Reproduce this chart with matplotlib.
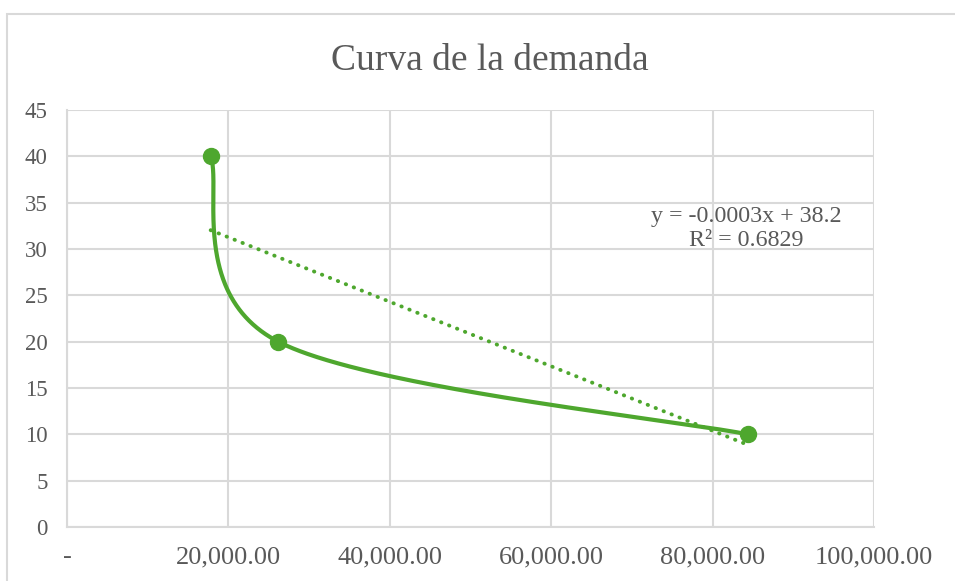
import numpy as np
import matplotlib.pyplot as plt
from matplotlib.patches import Rectangle

# demand points: quantity vs price
cantidad = [17800, 26170, 84400]
precio = [40, 20, 10]

x_ticks = [0, 20000, 40000, 60000, 80000, 100000]
x_labels = ['-', '20,000.00', '40,000.00', '60,000.00', '80,000.00', '100,000.00']
y_ticks = list(range(0, 50, 5))

verde = '#4EA72E'
gris = '#595959'
serif = ['Liberation Serif', 'DejaVu Serif']


def smooth_curve(xs, ys, n=200):
    # Catmull-Rom style bezier segments like a spreadsheet "smoothed line"
    pts = np.column_stack([xs, ys]).astype(float)
    out = []
    for i in range(len(pts) - 1):
        p0 = pts[max(i - 1, 0)]
        p1 = pts[i]
        p2 = pts[i + 1]
        p3 = pts[min(i + 2, len(pts) - 1)]
        c1 = p1 + (p2 - p0) / 6
        c2 = p2 - (p3 - p1) / 6
        t = np.linspace(0, 1, n)[:, None]
        seg = ((1 - t) ** 3) * p1 + 3 * ((1 - t) ** 2) * t * c1 \
            + 3 * (1 - t) * t ** 2 * c2 + t ** 3 * p2
        out.append(seg)
    seg = np.vstack(out)
    return seg[:, 0], seg[:, 1]


fig = plt.figure(figsize=(9.55, 5.81), dpi=100)
ax = fig.add_axes([0.0702, 0.0929, 0.8450, 0.7178])

# outer chart border
fig.patches.append(Rectangle((7 / 955, -0.1), 1.2, 1 - 14 / 581 + 0.1,
                             transform=fig.transFigure, fill=False,
                             edgecolor='#d9d9d9', lw=1.5))

sx, sy = smooth_curve(cantidad, precio)
ax.plot(sx, sy, color=verde, lw=3, zorder=3, solid_capstyle='round')
ax.plot(cantidad, precio, 'o', color=verde, ms=11.5, zorder=4)

# linear trendline
m, b = np.polyfit(cantidad, precio, 1)
pred = m * np.array(cantidad) + b
r2 = 1 - np.sum((np.array(precio) - pred) ** 2) / np.sum((np.array(precio) - np.mean(precio)) ** 2)
tx = np.array([cantidad[0], cantidad[-1]])
ax.plot(tx, m * tx + b, color=verde, lw=2.8, linestyle=(0, (0.1, 2.1)),
        dash_capstyle='round', zorder=3)
ax.text(84200, 32.2, f'y = {m:.4f}x + {b:.1f}\nR² = {r2:.4f}',
        ha='center', va='center', fontsize=17.3, color=gris,
        family=serif, linespacing=1.15)

ax.set_xlim(0, 100000)
ax.set_ylim(0, 45)
ax.set_xticks(x_ticks)
ax.set_xticklabels(x_labels)
ax.set_yticks(y_ticks)
ax.grid(True, color='#d9d9d9', lw=1.5)
ax.set_axisbelow(True)
for side in ['top', 'right']:
    ax.spines[side].set_visible(False)
for side in ['left', 'bottom']:
    ax.spines[side].set_color('#d9d9d9')
    ax.spines[side].set_linewidth(1.5)
ax.tick_params(length=0, colors=gris)
ax.tick_params(axis='x', pad=14)
ax.tick_params(axis='y', pad=14)
for lab in ax.get_xticklabels():
    lab.set_family(serif)
    lab.set_fontsize(19)
for lab in ax.get_yticklabels():
    lab.set_family(serif)
    lab.set_fontsize(16.5)

fig.text(0.513, 0.895, 'Curva de la demanda', ha='center', va='center',
         fontsize=27, color=gris, family=serif)

fig.savefig('out.png', dpi=100)
